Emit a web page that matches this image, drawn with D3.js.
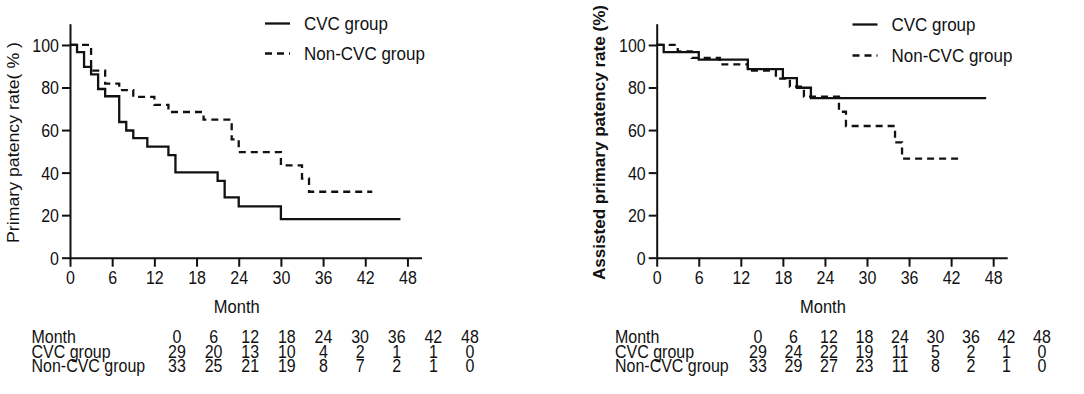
<!DOCTYPE html>
<html>
<head>
<meta charset="utf-8">
<script src="https://cdn.jsdelivr.net/npm/d3@7"></script>
<style>
  body { margin: 0; background: #fff; }
  svg { display: block; font-family: "Liberation Sans", Arial, sans-serif; }
</style>
</head>
<body>
<svg id="chart" width="1084" height="394"></svg>
<script>
// ---- data ----
const xTicks = [0, 6, 12, 18, 24, 30, 36, 42, 48];
const yTicks = [0, 20, 40, 60, 80, 100];
const groups = ['CVC group', 'Non-CVC group'];
const riskMonths = ['0', '6', '12', '18', '24', '30', '36', '42', '48'];

// [month, patency %] step points, last point = end of follow-up
const primaryCvc = [[0, 100], [1, 96.6], [2, 89.7], [3, 86.2], [4, 79.3], [5, 75.9], [7, 63.8], [8, 59.8],
  [9, 56.2], [11, 52.2], [14, 48.2], [15, 40.1], [21, 36.1], [22, 28.4], [24, 24.1], [30, 18.1], [47, 18.1]];
const primaryNonCvc = [[0, 100], [3, 87.9], [5, 81.8], [7, 78.8], [9, 75.6], [12, 71.8], [14, 68.5],
  [19, 64.9], [23, 55.6], [24, 49.6], [30, 43.4], [33, 37.2], [34, 31.0], [43, 31.0]];
const assistedCvc = [[0, 100], [1, 96.6], [6, 93.1], [13, 88.6], [18, 84.4], [20, 79.9], [22, 75.0], [47, 75.0]];
const assistedNonCvc = [[0, 100], [3, 97.0], [5, 93.9], [9, 90.9], [13, 87.9], [17, 84.2], [19, 80.4],
  [21, 75.7], [26, 68.6], [27, 61.9], [34, 54.2], [35, 46.6], [43, 46.6]];

const primaryRiskCvc = [29, 20, 13, 10, 4, 2, 1, 1, 0];
const primaryRiskNonCvc = [33, 25, 21, 19, 8, 7, 2, 1, 0];
const assistedRiskCvc = [29, 24, 22, 19, 11, 5, 2, 1, 0];
const assistedRiskNonCvc = [33, 29, 27, 23, 11, 8, 2, 1, 0];

const ink = '#111';
const k = 1.12; // the source figure is a little taller than wide, stretch text to match
const svg = d3.select('#chart');

// horizontal text stretched vertically around its baseline
function label(sel, x, y, txt, size, anchor) {
  return sel.append('text')
      .attr('transform', `translate(${x},${y}) scale(1,${k})`)
      .attr('text-anchor', anchor || 'start')
      .attr('fill', ink)
      .style('font-size', size + 'px')
      .text(txt);
}

const panels = [
  {
    x0: 70, x1: 421.5, yTitle: 'Primary patency rate( % )', titleX: 18.5, titleLen: 201, bold: false,
    series: [primaryCvc, primaryNonCvc], legendX: 265, legendY: [23.5, 53.5],
    risk: [primaryRiskCvc, primaryRiskNonCvc], rowLabelX: 31.5, colRange: [177, 470]
  },
  {
    x0: 656.7, x1: 1007.2, yTitle: 'Assisted primary patency rate (%)', titleX: 605, titleLen: 275, bold: true,
    series: [assistedCvc, assistedNonCvc], legendX: 852.5, legendY: [24.5, 55.5],
    risk: [assistedRiskCvc, assistedRiskNonCvc], rowLabelX: 615, colRange: [758, 1042]
  }
];

panels.forEach(p => {
  const x = d3.scaleLinear().domain([0, 50]).range([p.x0, p.x1]);
  const y = d3.scaleLinear().domain([0, 110]).range([257.7, 23.7]);

  const g = svg.append('g');

  // axes
  const xAxisG = g.append('g')
      .attr('transform', `translate(0,${y(0)})`)
      .call(d3.axisBottom(x).tickValues(xTicks).tickSize(9).tickSizeOuter(0).tickPadding(3));
  const yAxisG = g.append('g')
      .attr('transform', `translate(${x(0)},0)`)
      .call(d3.axisLeft(y).tickValues(yTicks).tickSize(8).tickSizeOuter(0).tickPadding(3));

  [xAxisG, yAxisG].forEach(a => {
    a.attr('font-family', null).attr('font-size', null);
    a.selectAll('.domain, line').attr('stroke', ink).attr('stroke-width', 2);
    a.selectAll('text').attr('fill', ink).style('font-size', '16px');
  });
  xAxisG.selectAll('text')
      .attr('y', 14 / k)
      .attr('transform', `scale(1,${k})`);
  yAxisG.selectAll('text')
      .attr('dy', '0.36em')
      .attr('transform', `scale(1,${k})`);

  // axis titles
  g.append('text')
      .attr('transform', `translate(${p.titleX},142.5) rotate(-90)`)
      .attr('text-anchor', 'middle')
      .attr('fill', ink)
      .attr('textLength', p.titleLen)
      .attr('lengthAdjust', 'spacingAndGlyphs')
      .style('font-size', p.bold ? '16.5px' : '17px')
      .style('font-weight', p.bold ? 'bold' : 'normal')
      .text(p.yTitle);

  label(g, x(24) - 2, 313.3, 'Month', 16.5, 'middle');

  // KM curves
  const line = d3.line()
      .x(d => x(d[0]))
      .y(d => y(d[1]))
      .curve(d3.curveStepAfter);

  p.series.forEach((s, i) => {
    g.append('path')
        .datum(s)
        .attr('d', line)
        .attr('fill', 'none')
        .attr('stroke', ink)
        .attr('stroke-width', 2.3)
        .attr('stroke-dasharray', i === 1 ? '7,5' : null);
  });

  // legend
  groups.forEach((name, i) => {
    const ly = p.legendY[i];
    g.append('line')
        .attr('x1', p.legendX).attr('x2', p.legendX + 25)
        .attr('y1', ly).attr('y2', ly)
        .attr('stroke', ink)
        .attr('stroke-width', 2.3)
        .attr('stroke-dasharray', i === 1 ? '7,5' : null);
    label(g, p.legendX + 39, ly + 6.8, name, 17);
  });

  // number at risk table
  const col = d3.scalePoint().domain(riskMonths).range(p.colRange);
  const rows = [['Month', riskMonths], [groups[0], p.risk[0]], [groups[1], p.risk[1]]];
  rows.forEach((r, i) => {
    const by = 343.3 + i * 14.3;
    label(g, p.rowLabelX, by, r[0], 16);
    r[1].forEach((v, j) => label(g, col(riskMonths[j]), by, v, 16, 'middle'));
  });
});
</script>
</body>
</html>
